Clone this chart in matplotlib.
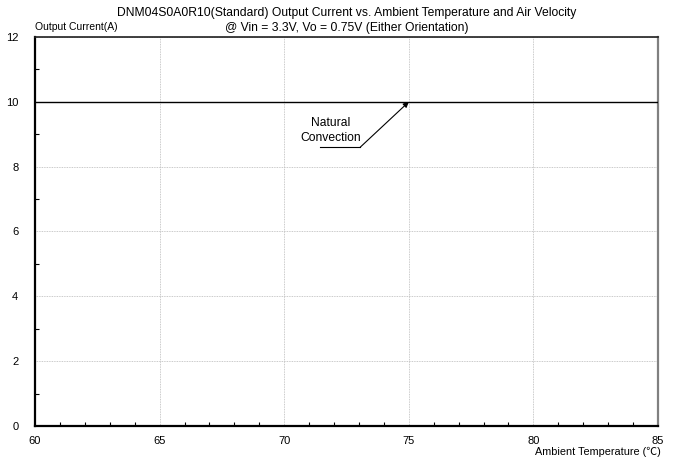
import matplotlib
matplotlib.use("Agg")
import matplotlib.pyplot as plt
from matplotlib.ticker import MultipleLocator

plt.rcParams['font.family'] = ['Liberation Sans', 'DejaVu Sans']

temps = [60, 85]
current = [10, 10]
x_ticks = [60, 65, 70, 75, 80, 85]
y_ticks = [0, 2, 4, 6, 8, 10, 12]

W, H = 679, 458
fig = plt.figure(figsize=(W/100, H/100), dpi=100)
ax = fig.add_axes([35/W, 1-426/H, (658-35)/W, (426-37)/H])

ax.plot(temps, current, color='black', lw=1.0, zorder=3)
ax.set_xlim(60, 85)
ax.set_ylim(0, 12)
ax.set_xticks(x_ticks)
ax.set_yticks(y_ticks)
ax.xaxis.set_minor_locator(MultipleLocator(1))
ax.yaxis.set_minor_locator(MultipleLocator(1))
ax.tick_params(axis='both', which='major', direction='in', length=4, width=0.8, labelsize=8)
ax.tick_params(axis='both', which='minor', direction='in', length=3, width=0.8)
ax.tick_params(axis='y', which='major', length=0, pad=12)
ax.tick_params(axis='x', which='major', length=0, pad=7)
ax.grid(True, which='major', color='#b8b8b8', ls=(0, (1, 1)), lw=0.6)
ax.spines['left'].set_linewidth(1.6)
ax.spines['bottom'].set_linewidth(1.6)
ax.spines['top'].set_linewidth(1.2)
ax.spines['right'].set_linewidth(1.6)
ax.spines['right'].set_color('#808080')
ax.spines['top'].set_color('#202020')

fig.text(347/W, 1-13/H, 'DNM04S0A0R10(Standard) Output Current vs. Ambient Temperature and Air Velocity',
         ha='center', va='center', fontsize=8.7)
fig.text(347/W, 1-28/H, '@ Vin = 3.3V, Vo = 0.75V (Either Orientation)',
         ha='center', va='center', fontsize=8.7)
fig.text(35/W, 1-27/H, 'Output Current(A)', ha='left', va='center', fontsize=7.5)
fig.text(661/W, 1-452/H, 'Ambient Temperature (℃)', ha='right', va='center', fontsize=7.8,
         family=['Liberation Sans', 'Noto Sans CJK SC', 'DejaVu Sans'])

ax.text(71.85, 9.12, 'Natural\nConvection', ha='center', va='center', fontsize=8.7, linespacing=1.4)
ax.plot([71.45, 73.05], [8.6, 8.6], color='black', lw=0.8)
ax.annotate('', xy=(75.0, 10.0), xytext=(73.05, 8.6),
            arrowprops=dict(arrowstyle='-|>', color='black', lw=0.8, mutation_scale=8, shrinkA=0, shrinkB=0))

fig.savefig('out.png', dpi=100)
